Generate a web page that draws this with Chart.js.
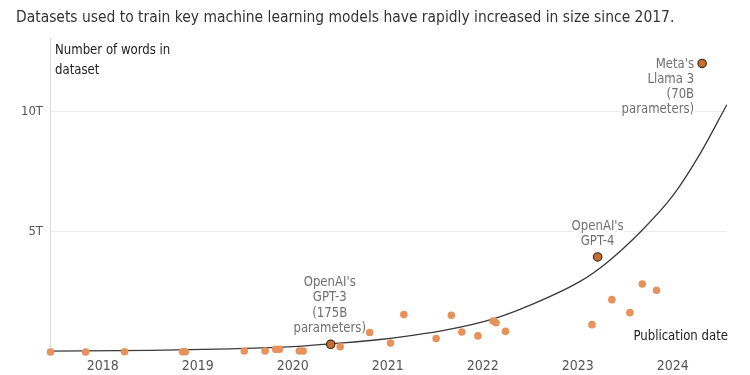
<!DOCTYPE html>
<html>
<head>
<meta charset="utf-8">
<script src="https://cdn.jsdelivr.net/npm/chart.js@4.4.1/dist/chart.umd.min.js"></script>
<style>
html, body { margin: 0; padding: 0; background: #fff; }
</style>
</head>
<body>
<canvas id="chart" width="750" height="375"></canvas>
<script>
const ctx = document.getElementById('chart').getContext('2d');
const FONT = '"Liberation Sans Narrow", "DejaVu Sans Condensed", "Liberation Sans", sans-serif';

// Words in dataset (trillions) by publication date (decimal year)
const modelDates = [2017.45, 2017.82, 2018.23, 2018.84, 2018.87, 2019.49, 2019.71, 2019.82, 2019.86,
    2020.07, 2020.11, 2020.50, 2020.81, 2021.03, 2021.17, 2021.51, 2021.67, 2021.78, 2021.95,
    2022.11, 2022.14, 2022.24, 2023.15, 2023.36, 2023.55, 2023.68, 2023.83];
const modelWords = [0.00, 0.00, 0.01, 0.01, 0.01, 0.04, 0.04, 0.11, 0.11,
    0.04, 0.04, 0.22, 0.81, 0.37, 1.56, 0.56, 1.53, 0.83, 0.67,
    1.29, 1.22, 0.86, 1.14, 2.18, 1.64, 2.83, 2.57];

// Highlighted models
const notableDates = [2020.40, 2023.21, 2024.31];
const notableWords = [0.32, 3.96, 12.02];
const notableLabels = [
    ["OpenAI's", 'GPT-3', '(175B', 'parameters)'],
    ["OpenAI's", 'GPT-4'],
    ["Meta's", 'Llama 3', '(70B', 'parameters)']
];

// Trend curve
const trendDates = [2017.45, 2018.5, 2019.34, 2020.0, 2020.40, 2020.92, 2021.62, 2022.13, 2022.50, 2023.03, 2023.30, 2023.66, 2024.00, 2024.28, 2024.57];
const trendWords = [0.04, 0.07, 0.13, 0.22, 0.34, 0.52, 0.92, 1.40, 1.95, 2.95, 3.7, 5.0, 6.5, 8.2, 10.3];

const xTickYears = [2018, 2019, 2020, 2021, 2022, 2023, 2024];
const yTickValues = [5, 10];

const titleText = 'Datasets used to train key machine learning models have rapidly increased in size since 2017.';
const yCaption = ['Number of words in', 'dataset'];
const xCaption = 'Publication date';

// where each highlight label sits relative to its point
const labelPlacement = [
    { align: 'center', dx: -1, anchor: 'above' },
    { align: 'center', dx: 0, anchor: 'above' },
    { align: 'right', dx: -8, anchor: 'below' }
];

const toXY = (xs, ys) => xs.map((x, i) => ({ x: x, y: ys[i] }));

// narrow font, squeezed a little horizontally
function drawText(c, text, x, y, size, sx, halo) {
    c.save();
    c.font = size + 'px ' + FONT;
    c.translate(x, y);
    c.scale(sx, 1);
    if (halo) c.strokeText(text, 0, 0);
    c.fillText(text, 0, 0);
    c.restore();
}

const textPlugin = {
    id: 'texts',
    beforeDatasetsDraw(chart) {
        const c = chart.ctx;
        const xs = chart.scales.x;
        const ys = chart.scales.y;
        c.save();
        c.textBaseline = 'middle';

        // highlight labels with a white halo over the gridlines
        c.fillStyle = '#707070';
        c.strokeStyle = '#fff';
        c.lineWidth = 4;
        c.lineJoin = 'round';
        notableLabels.forEach((lines, i) => {
            const p = labelPlacement[i];
            const px = xs.getPixelForValue(notableDates[i]) + p.dx;
            const py = ys.getPixelForValue(notableWords[i]);
            c.textAlign = p.align;
            lines.forEach((t, k) => {
                const ly = p.anchor === 'above' ? py - 15.5 * (lines.length - k) : py + 0.5 + 15 * k;
                drawText(c, t, px, ly, 14, 0.93, true);
            });
        });
        c.restore();
    },
    afterDraw(chart) {
        const c = chart.ctx;
        c.save();
        c.textBaseline = 'middle';
        c.textAlign = 'left';
        c.fillStyle = '#333';
        drawText(c, titleText, 16, 18, 16.5, 0.935);

        c.fillStyle = '#222';
        drawText(c, yCaption[0], 55, 50, 14.5, 0.9);
        drawText(c, yCaption[1], 55, 70, 14.5, 0.9);

        c.textAlign = 'right';
        drawText(c, xCaption, 728, 336, 14.5, 0.9);
        c.restore();
    }
};

new Chart(ctx, {
    type: 'scatter',
    data: {
        datasets: [
            {
                label: 'Trend',
                data: toXY(trendDates, trendWords),
                showLine: true,
                borderColor: '#3a3a3a',
                borderWidth: 1.3,
                pointRadius: 0,
                cubicInterpolationMode: 'monotone',
                clip: false,
                order: 2
            },
            {
                label: 'Models',
                data: toXY(modelDates, modelWords),
                backgroundColor: '#e6925a',
                borderWidth: 0,
                pointRadius: 3.8,
                clip: false,
                order: 1
            },
            {
                label: 'Notable models',
                data: toXY(notableDates, notableWords),
                backgroundColor: '#c96d2c',
                borderColor: '#3a2a20',
                borderWidth: 1.2,
                pointRadius: 4.2,
                clip: false,
                order: 0
            }
        ]
    },
    options: {
        responsive: false,
        animation: false,
        layout: { padding: { left: 0, top: 38, right: 23, bottom: 0 } },
        plugins: {
            legend: { display: false },
            tooltip: { enabled: false }
        },
        scales: {
            x: {
                type: 'linear',
                min: 2017.445,
                max: 2024.572,
                afterBuildTicks: scale => { scale.ticks = xTickYears.map(v => ({ value: v })); },
                afterFit: scale => { scale.height = 23; },
                grid: { display: false, drawTicks: false },
                border: { display: false },
                ticks: {
                    padding: 6,
                    color: '#555',
                    font: { family: FONT, size: 14 },
                    callback: v => String(v),
                    maxRotation: 0
                }
            },
            y: {
                type: 'linear',
                min: 0,
                max: 13.08,
                afterBuildTicks: scale => { scale.ticks = yTickValues.map(v => ({ value: v })); },
                afterFit: scale => { scale.width = 50; },
                grid: { color: '#ececec', lineWidth: 1, drawTicks: false },
                border: { display: true, color: '#dcdcdc', width: 1 },
                ticks: {
                    padding: 7,
                    color: '#555',
                    font: { family: FONT, size: 13 },
                    callback: v => v + 'T'
                }
            }
        }
    },
    plugins: [textPlugin]
});
</script>
</body>
</html>
